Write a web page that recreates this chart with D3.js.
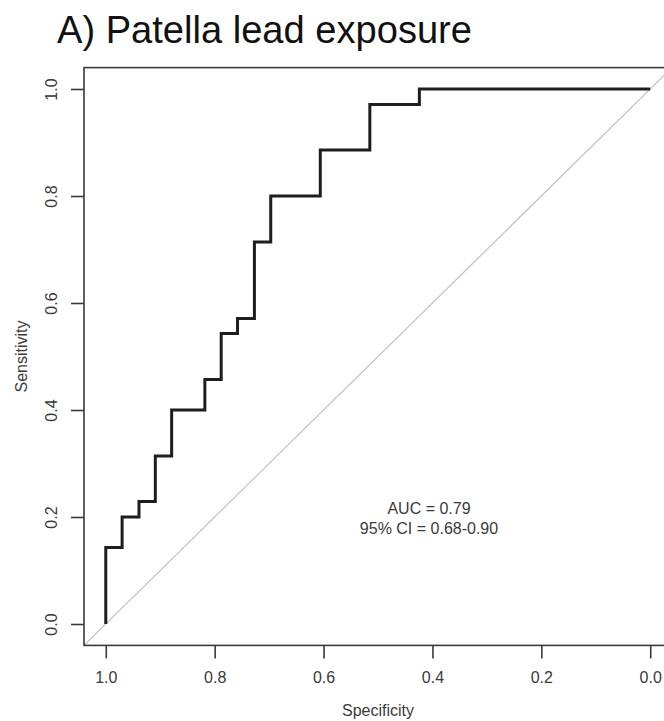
<!DOCTYPE html>
<html>
<head>
<meta charset="utf-8">
<script src="https://cdn.jsdelivr.net/npm/d3@7"></script>
<style>
  html, body { margin: 0; padding: 0; background: #fff; }
  svg text { font-family: "Liberation Sans", Arial, sans-serif; fill: #3a3a3a; }
</style>
</head>
<body>
<svg id="chart" width="664" height="721"></svg>
<script>
// ROC curve vertices (stepped)
const specificity = [1, 1, 0.970, 0.939, 0.909, 0.879, 0.818, 0.788, 0.758, 0.727, 0.697, 0.606, 0.515, 0.424, 0];
const sensitivity = [0, 0.143, 0.200, 0.229, 0.314, 0.400, 0.457, 0.543, 0.571, 0.714, 0.800, 0.886, 0.971, 1, 1];
const ticks = [1.0, 0.8, 0.6, 0.4, 0.2, 0.0];
const title = 'A) Patella lead exposure';
const aucLines = ['AUC = 0.79', '95% CI = 0.68-0.90'];

const svg = d3.select('#chart');

// plot region: R style, axes extend 4% past the data range
const x = d3.scaleLinear().domain([1.04, -0.04]).range([84, 672]);
const y = d3.scaleLinear().domain([-0.04, 1.04]).range([645.4, 67.6]);

svg.append('defs').append('clipPath').attr('id', 'plotclip')
  .append('rect')
  .attr('x', x(1.04)).attr('y', y(1.04))
  .attr('width', x(-0.04) - x(1.04)).attr('height', y(-0.04) - y(1.04));

// title
svg.append('text')
  .attr('x', 57)
  .attr('y', 43)
  .attr('font-size', 39)
  .attr('textLength', 415)
  .attr('lengthAdjust', 'spacingAndGlyphs')
  .style('font-family', '"Liberation Sans Narrow", "Arial Narrow", "Liberation Sans", sans-serif')
  .style('fill', '#111')
  .text(title);

// chance diagonal
svg.append('line')
  .attr('clip-path', 'url(#plotclip)')
  .attr('x1', x(1.04)).attr('y1', y(-0.04))
  .attr('x2', x(-0.04)).attr('y2', y(1.04))
  .attr('stroke', '#c4c4c4')
  .attr('stroke-width', 1.3);

// ROC curve
const pts = specificity.map((s, i) => [s, sensitivity[i]]);
svg.append('path')
  .datum(pts)
  .attr('fill', 'none')
  .attr('stroke', '#1e1e1e')
  .attr('stroke-width', 3)
  .attr('stroke-linejoin', 'miter')
  .attr('d', d3.line().curve(d3.curveStepAfter).x((d) => x(d[0])).y((d) => y(d[1])));

// frame
svg.append('rect')
  .attr('x', x(1.04)).attr('y', y(1.04))
  .attr('width', x(-0.04) - x(1.04)).attr('height', y(-0.04) - y(1.04))
  .attr('fill', 'none')
  .attr('stroke', '#3a3a3a')
  .attr('stroke-width', 1.6);

// bottom axis
const xAxis = svg.append('g')
  .attr('transform', `translate(0, ${y(-0.04)})`)
  .call(d3.axisBottom(x).tickValues(ticks).tickSize(13).tickPadding(13).tickFormat(d3.format('.1f')));
xAxis.select('.domain').remove();
xAxis.selectAll('line').attr('stroke', '#3a3a3a').attr('stroke-width', 1.6);
xAxis.selectAll('text').attr('font-size', 16).attr('fill', '#3a3a3a').attr('font-family', null);

// left axis, labels rotated like R's default
const yAxis = svg.append('g')
  .attr('transform', `translate(${x(1.04)}, 0)`)
  .call(d3.axisLeft(y).tickValues(ticks).tickSize(13).tickFormat(d3.format('.1f')));
yAxis.select('.domain').remove();
yAxis.selectAll('line').attr('stroke', '#3a3a3a').attr('stroke-width', 1.6);
yAxis.selectAll('text')
  .attr('font-size', 16)
  .attr('fill', '#3a3a3a')
  .attr('font-family', null)
  .attr('x', null).attr('dy', null)
  .attr('text-anchor', 'middle')
  .attr('transform', 'translate(-27, 0) rotate(-90)');

// axis titles
svg.append('text')
  .attr('x', (x(1.04) + x(-0.04)) / 2)
  .attr('y', 716)
  .attr('text-anchor', 'middle')
  .attr('font-size', 16)
  .text('Specificity');

svg.append('text')
  .attr('text-anchor', 'middle')
  .attr('font-size', 16)
  .attr('transform', `translate(27, ${(y(1.04) + y(-0.04)) / 2}) rotate(-90)`)
  .text('Sensitivity');

// AUC annotation
svg.append('g')
  .selectAll('text')
  .data(aucLines)
  .join('text')
  .attr('x', 429)
  .attr('y', (d, i) => 514 + i * 20)
  .attr('text-anchor', 'middle')
  .attr('font-size', 16)
  .text((d) => d);
</script>
</body>
</html>
